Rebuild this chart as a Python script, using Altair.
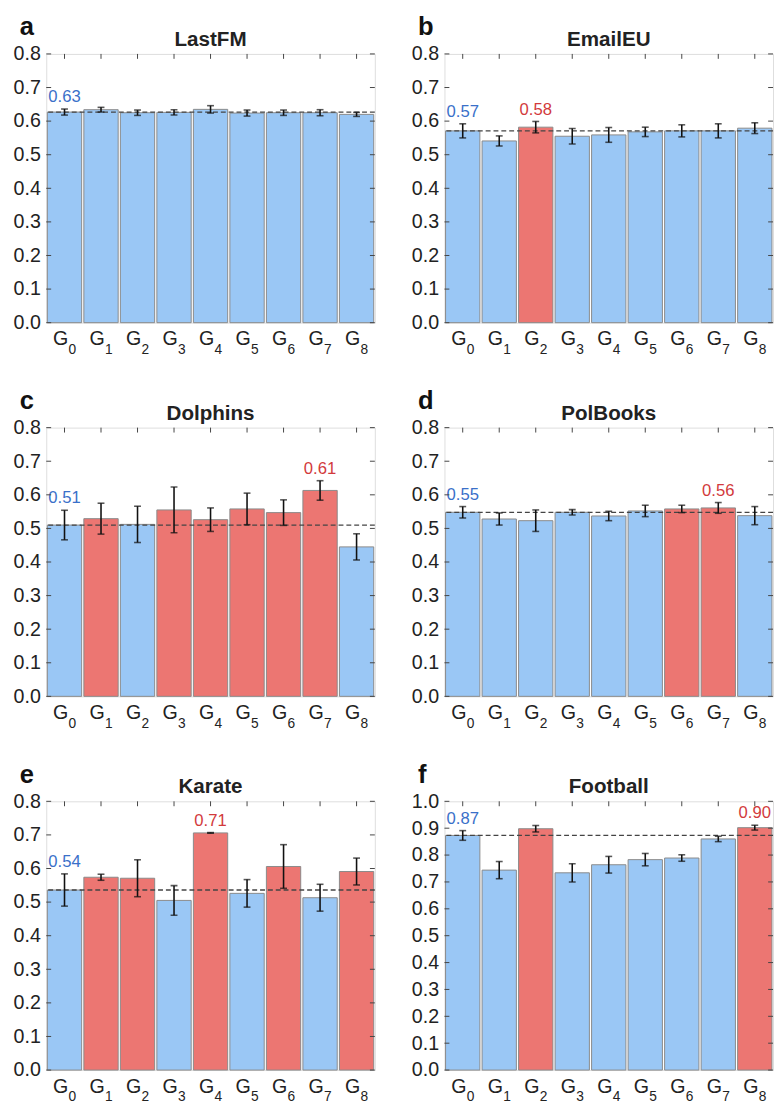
import altair as alt
import pandas as pd

# ---------------- data ----------------
groups = ["G0", "G1", "G2", "G3", "G4", "G5", "G6", "G7", "G8"]
subs = ["0", "1", "2", "3", "4", "5", "6", "7", "8"]

lastfm_vals = [0.627, 0.634, 0.625, 0.626, 0.635, 0.624, 0.625, 0.625, 0.620]
lastfm_err = [0.009, 0.007, 0.008, 0.008, 0.011, 0.009, 0.008, 0.009, 0.006]
lastfm_red = [0, 0, 0, 0, 0, 0, 0, 0, 0]

email_vals = [0.571, 0.541, 0.582, 0.555, 0.559, 0.568, 0.571, 0.571, 0.579]
email_err = [0.021, 0.015, 0.017, 0.023, 0.022, 0.014, 0.018, 0.021, 0.016]
email_red = [0, 0, 1, 0, 0, 0, 0, 0, 0]

dolph_vals = [0.510, 0.529, 0.512, 0.555, 0.526, 0.558, 0.547, 0.613, 0.445]
dolph_err = [0.044, 0.046, 0.054, 0.068, 0.035, 0.047, 0.038, 0.029, 0.039]
dolph_red = [0, 1, 0, 1, 1, 1, 1, 1, 0]

polb_vals = [0.548, 0.528, 0.523, 0.548, 0.537, 0.552, 0.558, 0.561, 0.538]
polb_err = [0.017, 0.018, 0.032, 0.008, 0.014, 0.017, 0.011, 0.016, 0.027]
polb_red = [0, 0, 0, 0, 0, 0, 1, 1, 0]

karate_vals = [0.536, 0.574, 0.571, 0.505, 0.706, 0.526, 0.606, 0.513, 0.591]
karate_err = [0.048, 0.009, 0.055, 0.044, 0.001, 0.041, 0.065, 0.040, 0.040]
karate_red = [0, 1, 1, 0, 1, 0, 1, 0, 1]

foot_vals = [0.873, 0.744, 0.898, 0.734, 0.764, 0.783, 0.789, 0.860, 0.902]
foot_err = [0.018, 0.032, 0.012, 0.034, 0.031, 0.023, 0.012, 0.010, 0.009]
foot_red = [0, 0, 1, 0, 0, 0, 0, 0, 1]

# index of the highlighted (best) group in each panel; None if none
lastfm_best = None
email_best = 2
dolph_best = 7
polb_best = 7
karate_best = 4
foot_best = 8

# ---------------- style ----------------
FONT = "Liberation Sans"
BLUE = "#9ac7f5"
RED = "#ec7672"
BLUE_TXT = "#3a70c9"
RED_TXT = "#d23a3c"
W = 335
H = 274


def panel(letter, name, vals, errs, red, best, ymax):
    ticks = [round(i * 0.1, 1) for i in range(int(round(ymax * 10)) + 1)]
    labels = []
    tcol = []
    for i, v in enumerate(vals):
        if i == 0:
            labels.append(f"{v:.2f}")
            tcol.append(BLUE_TXT)
        elif best is not None and i == best:
            labels.append(f"{v:.2f}")
            tcol.append(RED_TXT)
        else:
            labels.append("")
            tcol.append(BLUE_TXT)
    df = pd.DataFrame({
        "cat": groups,
        "sub": subs,
        "val": vals,
        "lo": [v - e for v, e in zip(vals, errs)],
        "hi": [v + e for v, e in zip(vals, errs)],
        "bcol": [RED if r else BLUE for r in red],
        "label": labels,
        "tcol": tcol,
    })
    yscale = alt.Scale(domain=[0, ymax], nice=False, zero=True)
    yaxis = alt.Axis(values=ticks, format=".1f", grid=False, ticks=False,
                     domain=False, labelFontSize=20, labelPadding=6,
                     labelColor="#222", title=None, labelFont=FONT)

    def Y(field):
        return alt.Y(field, scale=yscale, axis=yaxis, title=None)

    xenc = alt.X("cat:N", sort=groups, axis=None,
                 scale=alt.Scale(paddingInner=0.06, paddingOuter=0.03))
    base = alt.Chart(df).encode(x=xenc)

    bars = base.mark_bar(stroke="#8a8a8a", strokeWidth=1).encode(
        y=Y("val:Q"), color=alt.Color("bcol:N", scale=None))
    err = base.mark_rule(color="#111", strokeWidth=1.6).encode(
        y=Y("lo:Q"), y2="hi:Q")
    cap_lo = base.mark_tick(color="#111", size=7, thickness=1.6).encode(y=Y("lo:Q"))
    cap_hi = base.mark_tick(color="#111", size=7, thickness=1.6).encode(y=Y("hi:Q"))
    ref = alt.Chart(df).transform_filter(alt.datum.cat == "G0").mark_rule(
        color="#444", strokeDash=[5, 3], strokeWidth=1.3).encode(y=Y("val:Q"))
    vlab = base.transform_filter(alt.datum.label != "").mark_text(
        dy=-7, baseline="alphabetic", fontSize=17, font=FONT).encode(
        y=Y("hi:Q"), text="label:N", color=alt.Color("tcol:N", scale=None))

    tdf = pd.DataFrame({"t": ticks})
    ytick_l = alt.Chart(tdf).mark_rule(color="#444").encode(
        y=Y("t:Q"), x=alt.value(0), x2=alt.value(5))
    ytick_r = alt.Chart(tdf).mark_rule(color="#444").encode(
        y=Y("t:Q"), x=alt.value(W - 5), x2=alt.value(W))
    xtick_t = base.mark_rule(color="#444").encode(y=alt.value(0), y2=alt.value(5))

    g_lab = base.mark_text(fontSize=20, font=FONT, baseline="alphabetic",
                           dx=-4, color="#222").encode(
        y=alt.value(H + 23), text=alt.value("G"))
    s_lab = base.mark_text(fontSize=14, font=FONT, baseline="alphabetic",
                           dx=8, color="#222").encode(
        y=alt.value(H + 32), text="sub:N")

    tdf2 = pd.DataFrame({"name": [name], "letter": [letter]})
    title = alt.Chart(tdf2).mark_text(fontSize=21, fontWeight="bold", font=FONT,
                                      baseline="alphabetic", color="#222").encode(
        x=alt.value(W / 2), y=alt.value(-8), text="name:N")
    let = alt.Chart(tdf2).mark_text(fontSize=26, fontWeight="bold", font=FONT,
                                    baseline="alphabetic", align="left",
                                    color="#111").encode(
        x=alt.value(-27), y=alt.value(-19), text="letter:N")

    return alt.layer(bars, ref, err, cap_lo, cap_hi, vlab, ytick_l, ytick_r,
                     xtick_t, g_lab, s_lab, title, let).properties(width=W, height=H)


pa = panel("a", "LastFM", lastfm_vals, lastfm_err, lastfm_red, lastfm_best, 0.8)
pb = panel("b", "EmailEU", email_vals, email_err, email_red, email_best, 0.8)
pc = panel("c", "Dolphins", dolph_vals, dolph_err, dolph_red, dolph_best, 0.8)
pd_ = panel("d", "PolBooks", polb_vals, polb_err, polb_red, polb_best, 0.8)
pe = panel("e", "Karate", karate_vals, karate_err, karate_red, karate_best, 0.8)
pf = panel("f", "Football", foot_vals, foot_err, foot_red, foot_best, 1.0)

chart = alt.vconcat(
    alt.hconcat(pa, pb, spacing=34),
    alt.hconcat(pc, pd_, spacing=34),
    alt.hconcat(pe, pf, spacing=34),
    spacing=30,
).properties(
    padding={"left": 4, "top": -5, "right": 0, "bottom": 0}
).configure_view(stroke="#444", strokeWidth=1.2).configure(
    font=FONT, background="white")

chart.save("out.html", embed_options={"renderer": "svg", "actions": False})
